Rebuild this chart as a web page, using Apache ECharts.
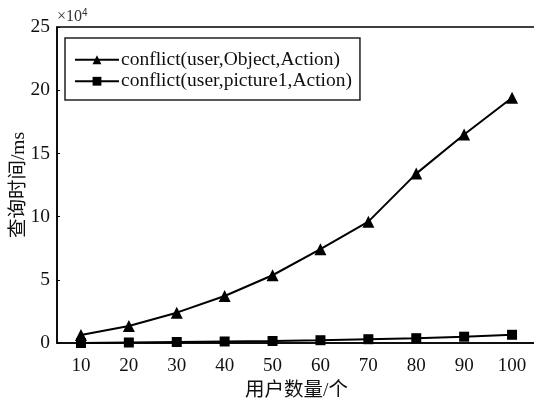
<!DOCTYPE html>
<html><head><meta charset="utf-8">
<script src="https://cdn.jsdelivr.net/npm/echarts@6/dist/echarts.min.js"></script>
<style>html,body{margin:0;padding:0;background:#fff}#c{width:534px;height:404px}</style>
</head><body><div id="c"></div>
<script>
var categories = ['10','20','30','40','50','60','70','80','90','100'];
var seriesObject = [0.63, 1.35, 2.4, 3.72, 5.36, 7.42, 9.6, 13.4, 16.5, 19.4];
var seriesPicture = [0.0, 0.04, 0.08, 0.12, 0.16, 0.22, 0.3, 0.38, 0.5, 0.65];
var seriesNames = ['conflict(user,Object,Action)', 'conflict(user,picture1,Action)'];
var yTicks = [0, 5, 10, 15, 20, 25];

var serif = '"Liberation Serif", "Noto Sans CJK SC", serif';
var chart = echarts.init(document.getElementById('c'), null, {renderer: 'canvas'});
chart.setOption({
  animation: false,
  backgroundColor: '#fff',
  grid: {left: 57, right: -2, top: 27, bottom: 61, show: true, borderColor: '#000', borderWidth: 1.5,
    backgroundColor: 'transparent', containLabel: false, outerBoundsMode: 'none'},
  legend: {
    orient: 'vertical', left: 65, top: 38, width: 297,
    borderColor: '#222', borderWidth: 1.5, padding: [12, 8, 9, 9],
    itemGap: 2, itemWidth: 44, itemHeight: 11,
    textStyle: {fontFamily: serif, fontSize: 19.5, color: '#111', padding: [0, 0, 0, -3]},
    data: seriesNames
  },
  graphic: [{
    type: 'text', left: 57, top: 8,
    style: {text: '×10{s|4}', fontFamily: serif, fontSize: 16, fill: '#333',
      rich: {s: {fontSize: 10, verticalAlign: 'top', padding: [0,0,7,0]}}}
  }],
  xAxis: {
    type: 'category', data: categories, boundaryGap: true,
    name: '用户数量/个', nameLocation: 'middle', nameGap: 38, nameMoveOverlap: false,
    nameTextStyle: {fontFamily: serif, fontSize: 19.5, color: '#111'},
    axisLine: {lineStyle: {color: '#000', width: 1.5}},
    axisTick: {show: false},
    axisLabel: {fontFamily: serif, fontSize: 19, color: '#111', margin: 14}
  },
  yAxis: {
    type: 'value', min: 0, max: 25, interval: 5,
    name: '查询时间/ms', nameLocation: 'middle', nameGap: 28, nameRotate: 90, nameMoveOverlap: false,
    nameTextStyle: {fontFamily: serif, fontSize: 19.5, color: '#111'},
    axisLine: {show: true, lineStyle: {color: '#000', width: 1.5}},
    axisTick: {show: true, inside: true, length: 3, lineStyle: {color: '#000'}},
    splitLine: {show: false},
    axisLabel: {fontFamily: serif, fontSize: 19.5, color: '#111', margin: 7,
      formatter: function(v){ return yTicks.indexOf(v) >= 0 ? String(v) : ''; }}
  },
  series: [
    {name: seriesNames[0], type: 'line', data: seriesObject, symbol: 'triangle', symbolSize: 12,
      lineStyle: {color: '#000', width: 2}, itemStyle: {color: '#000'}},
    {name: seriesNames[1], type: 'line', data: seriesPicture, symbol: 'rect', symbolSize: 10,
      lineStyle: {color: '#000', width: 2}, itemStyle: {color: '#000'}}
  ]
});
</script></body></html>
